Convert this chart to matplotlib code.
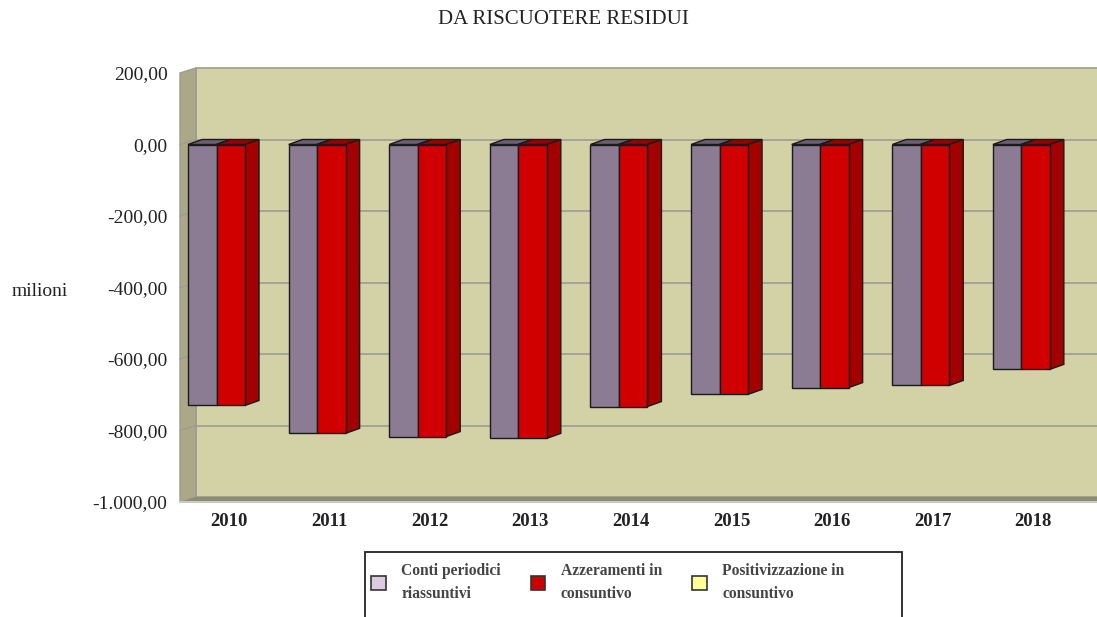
import matplotlib
matplotlib.use("Agg")
import matplotlib.pyplot as plt
from matplotlib.patches import Polygon, Patch, Rectangle

# data (milioni)
years = ["2010", "2011", "2012", "2013", "2014", "2015", "2016", "2017", "2018"]
conti_periodici = [-730, -808, -817, -822, -733, -699, -680, -674, -629]
azzeramenti = [-730, -808, -817, -822, -733, -699, -680, -674, -629]
positivizzazione = [0, 0, 0, 0, 0, 0, 0, 0, 0]
yticks = [200, 0, -200, -400, -600, -800, -1000]

series_names = ["Conti periodici\nriassuntivi", "Azzeramenti in\nconsuntivo", "Positivizzazione in\nconsuntivo"]

plt.rcParams['font.family'] = ['Liberation Serif', 'DejaVu Serif']

W, H = 1097, 617
fig = plt.figure(figsize=(W / 100, H / 100), dpi=100)
ax = fig.add_axes([180 / W, 1 - 502 / H, 917 / W, (502 - 73) / H])

ymin, ymax = -1000, 200
xl, xr = -0.363, 8.752
ax.set_xlim(xl, xr)
ax.set_ylim(ymin, ymax)

# pixel -> data scale for the fake depth
px_x = (xr - xl) / 917.0
px_y = (ymax - ymin) / (502 - 73.0)
wdx, wdy = 16 * px_x, 5 * px_y      # wall depth
bdx, bdy = 14 * px_x, 5 * px_y      # bar depth
bw = 28.5 * px_x                    # single bar width

wall = "#d3d1a6"
side_wall = "#aaa886"
floor = "#8c8c70"
grid_c = "#9c9c94"

# back wall
ax.add_patch(Polygon([(xl + wdx, ymin + wdy), (xr + wdx, ymin + wdy),
                      (xr + wdx, ymax + wdy), (xl + wdx, ymax + wdy)],
                     closed=True, fc=wall, ec=grid_c, lw=1.2, clip_on=False, zorder=1))
# left wall
ax.add_patch(Polygon([(xl, ymin), (xl + wdx, ymin + wdy), (xl + wdx, ymax + wdy), (xl, ymax)],
                     closed=True, fc=side_wall, ec=grid_c, lw=1.0, clip_on=False, zorder=1))
# floor
ax.add_patch(Polygon([(xl, ymin), (xr, ymin), (xr + wdx, ymin + wdy), (xl + wdx, ymin + wdy)],
                     closed=True, fc=floor, ec="none", clip_on=False, zorder=1))
ax.plot([xl, xr + wdx], [ymin, ymin], color="#c8c8c8", lw=1.5, clip_on=False, zorder=1)

# gridlines on back wall and left wall
for v in yticks[1:-1]:
    ax.plot([xl + wdx, xr + wdx], [v + wdy, v + wdy], color=grid_c, lw=1.2, clip_on=False, zorder=2)
    ax.plot([xl, xl + wdx], [v, v + wdy], color=grid_c, lw=1.0, clip_on=False, zorder=2)


def bar3d(x0, val, front, side, top):
    x1 = x0 + bw
    ax.add_patch(Polygon([(x0, 0), (x1, 0), (x1 + bdx, bdy), (x0 + bdx, bdy)],
                         closed=True, fc=top, ec="#1a1a1a", lw=1.0, zorder=3, clip_on=False))
    ax.add_patch(Polygon([(x1, 0), (x1 + bdx, bdy), (x1 + bdx, val + bdy), (x1, val)],
                         closed=True, fc=side, ec="#1a1a1a", lw=1.0, zorder=3, clip_on=False))
    ax.add_patch(Polygon([(x0, 0), (x1, 0), (x1, val), (x0, val)],
                         closed=True, fc=front, ec="#1a1a1a", lw=1.0, zorder=4, clip_on=False))


for i in range(len(years)):
    bar3d(i - bw, conti_periodici[i], "#8b7b93", "#6c5e74", "#6c5e74")
    bar3d(i, azzeramenti[i], "#d00000", "#a30000", "#9a0000")


def fmt(v):
    s = format(abs(v), ",.2f").replace(",", "X").replace(".", ",").replace("X", ".")
    return ("-" if v < 0 else "") + s


ax.set_yticks(yticks)
ax.set_yticklabels([fmt(v) for v in yticks])
ax.set_xticks([i + 0.12 for i in range(len(years))])
ax.set_xticklabels(years, fontweight="bold")
ax.tick_params(axis="y", length=0, pad=9, labelsize=14, labelcolor="#222222")
ax.tick_params(axis="x", length=0, pad=8, labelsize=13.5, labelcolor="#222222")
for s in ax.spines.values():
    s.set_visible(False)
ax.patch.set_visible(False)

fig.text(563 / W, 1 - 19.5 / H, "DA RISCUOTERE RESIDUI", ha="center", va="center",
         fontsize=15, color="#222222")
fig.text(40 / W, 1 - 291 / H, "milioni", ha="center", va="center", fontsize=14, color="#222222")

# legend box runs off the bottom edge like in the original
fig.add_artist(Rectangle((365 / W, -0.05), 537 / W, 1 - 552 / H + 0.05, transform=fig.transFigure,
                         fill=False, ec="#222222", lw=1.3))
handles = [Patch(fc="#dccbe0", ec="#333333", lw=1.2),
           Patch(fc="#cc0000", ec="#333333", lw=1.2),
           Patch(fc="#ffff99", ec="#333333", lw=1.2)]
leg = fig.legend(handles, series_names, loc="upper left", ncol=3,
                 bbox_to_anchor=(371 / W, 1 - 563 / H),
                 frameon=False, prop={"size": 11.2, "weight": "bold"}, labelcolor="#444444",
                 handlelength=0.95, handleheight=0.95, handletextpad=1.0,
                 borderpad=0, borderaxespad=0, columnspacing=1.9, labelspacing=0.2)
for t in leg.get_texts():
    t.set_linespacing(1.55)

fig.savefig("out.png", dpi=100)
